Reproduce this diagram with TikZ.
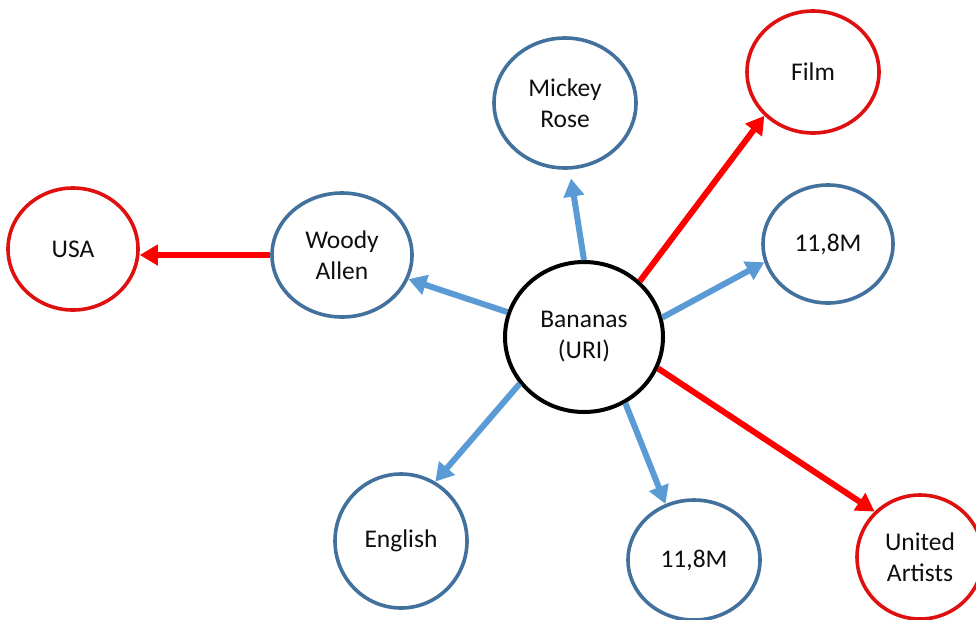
\documentclass[tikz,border=0pt]{standalone}
\usepackage{fontspec}
\setmainfont{Carlito}
\usetikzlibrary{shapes.geometric,arrows.meta}

\definecolor{nodeblue}{RGB}{65,113,156}
\definecolor{arrowblue}{RGB}{91,155,213}
\definecolor{nodered}{RGB}{222,16,16}
\definecolor{arrowred}{RGB}{255,0,0}
\definecolor{textgray}{RGB}{15,15,15}

\tikzset{
  res/.style={ellipse, draw, line width=3.6pt, fill=white, inner sep=0pt,
    align=center, text=textgray,
    font=\fontsize{25.5}{31}\selectfont},
  literal/.style={res, draw=nodeblue},
  resource/.style={res, draw=nodered},
  subject/.style={res, draw=black, line width=4pt},
  bluelink/.style={draw=arrowblue, line width=6pt,
    -{Triangle[length=18pt,width=20pt]}},
  redlink/.style={draw=arrowred, line width=6pt,
    -{Triangle[length=18pt,width=20pt]}},
}

\begin{document}
\begin{tikzpicture}[x=1pt,y=-1pt]
  \useasboundingbox (0,0) rectangle (976,619);

  % nodes
  \node[subject,  minimum width=158pt, minimum height=150pt] (ban)   at (584,337) {Bananas\\(URI)};
  \node[literal,  minimum width=142pt, minimum height=130pt] (mic)   at (565,103) {Mickey\\Rose};
  \node[resource, minimum width=132pt, minimum height=122pt] (film)  at (813,72)  {Film};
  \node[literal,  minimum width=140pt, minimum height=124pt] (woody) at (342,255) {Woody\\Allen};
  \node[resource, minimum width=130pt, minimum height=122pt] (usa)   at (73,249)  {USA};
  \node[literal,  minimum width=130pt, minimum height=118pt] (mone)  at (828,244) {11,8M};
  \node[literal,  minimum width=132pt, minimum height=134pt] (eng)   at (401,541) {English};
  \node[literal,  minimum width=132pt, minimum height=120pt] (mtwo)  at (694,560) {11,8M};
  \node[resource, minimum width=126pt, minimum height=124pt] (ua)    at (920,557) {United\\Artists};

  % properties
  \draw[bluelink] (ban.162.7) -- (woody.340.5);
  \draw[bluelink, shorten >=9pt] (ban.90.8) -- (mic.274);
  \draw[redlink]  (ban.45) -- (film.222);
  \draw[bluelink] (ban.14.6) -- (mone.196);
  \draw[redlink]  (ban.337) -- (ua.135.6);
  \draw[bluelink] (ban.302) -- (mtwo.117.8);
  \draw[bluelink] (ban.216.6) -- (eng.60.7);
  \draw[redlink]  (woody.west) -- (woody.west -| usa.east);
\end{tikzpicture}
\end{document}
